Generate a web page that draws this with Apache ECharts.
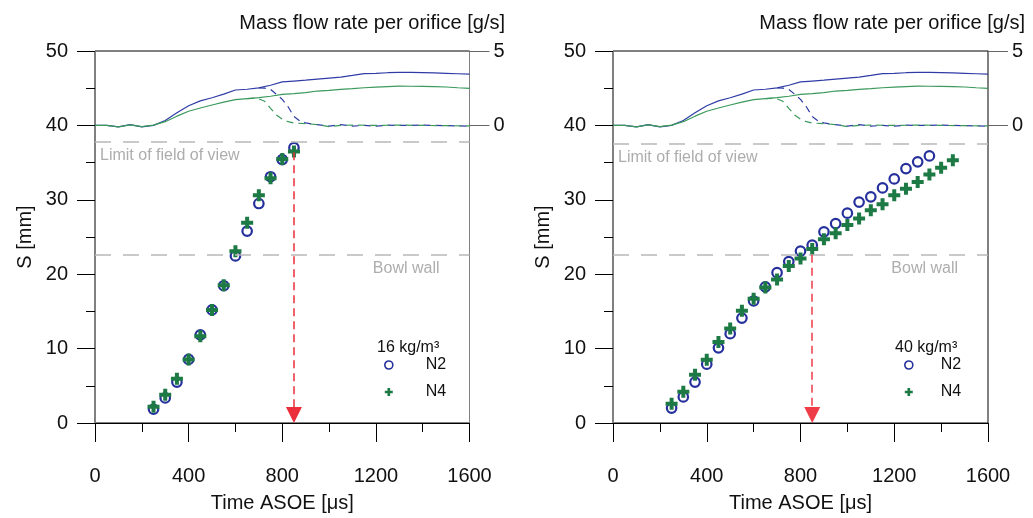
<!DOCTYPE html>
<html>
<head>
<meta charset="utf-8">
<script src="https://cdn.jsdelivr.net/npm/echarts@6/dist/echarts.min.js"></script>
<style>
  html, body { margin: 0; padding: 0; background: #fff; }
  #chart { width: 1033px; height: 518px; }
</style>
</head>
<body>
<div id="chart"></div>
<script>
// penetration S vs time, 16 kg/m3 (left panel)
var timeLeft = [250, 300, 350, 400, 450, 500, 550, 600, 650, 700, 750, 800, 850];
var n2Left = [1.85, 3.37, 5.5, 8.55, 11.85, 15.2, 18.45, 22.45, 25.8, 29.5, 33.1, 35.4, 37.0];
var n4Left = [2.2, 3.8, 5.95, 8.55, 11.65, 15.2, 18.5, 23.1, 26.9, 30.6, 32.9, 35.5, 36.5];

// penetration S vs time, 40 kg/m3 (right panel)
var timeRightN2 = [250, 300, 350, 400, 450, 500, 550, 600, 650, 700, 750, 800, 850, 900, 950, 1000, 1050, 1100, 1150, 1200, 1250, 1300, 1350];
var n2Right = [2.0, 3.5, 5.5, 7.9, 10.1, 12.0, 14.1, 16.4, 18.3, 20.2, 21.7, 23.1, 23.9, 25.7, 26.8, 28.2, 29.7, 30.4, 31.6, 32.8, 34.2, 35.1, 35.9];
var timeRightN4 = [250, 300, 350, 400, 450, 500, 550, 600, 650, 700, 750, 800, 850, 900, 950, 1000, 1050, 1100, 1150, 1200, 1250, 1300, 1350, 1400, 1450];
var n4Right = [2.6, 4.2, 6.5, 8.5, 10.9, 12.7, 15.1, 16.7, 18.2, 19.3, 21.1, 22.1, 23.4, 24.7, 25.5, 26.6, 27.5, 28.6, 29.4, 30.6, 31.5, 32.4, 33.4, 34.3, 35.3];

// mass flow rate per orifice [g/s] (right axis)
var flowTime = [0, 50, 100, 150, 200, 250, 300, 350, 400, 450, 500, 550, 600, 650, 700, 750, 800, 850, 900, 950, 1000, 1050, 1100, 1150, 1200, 1250, 1300, 1350, 1400, 1450, 1500, 1550, 1600];
var n2Flow = [0, 0, -0.1, 0.05, -0.1, 0, 0.33, 0.85, 1.32, 1.65, 1.86, 2.1, 2.38, 2.43, 2.52, 2.7, 2.92, 2.98, 3.04, 3.11, 3.18, 3.25, 3.36, 3.48, 3.5, 3.54, 3.56, 3.56, 3.55, 3.53, 3.5, 3.47, 3.44];
var n4Flow = [0, 0, -0.1, 0.03, -0.08, 0.02, 0.25, 0.62, 0.95, 1.17, 1.37, 1.56, 1.73, 1.8, 1.87, 1.96, 2.08, 2.13, 2.2, 2.31, 2.36, 2.42, 2.47, 2.53, 2.57, 2.61, 2.64, 2.63, 2.62, 2.6, 2.58, 2.53, 2.49];
// dashed (cut-off) traces
var n2CutTime = [700, 725, 750, 775, 800, 825, 850, 875, 900, 925, 950, 1000, 1050, 1100, 1150, 1200, 1250, 1300, 1350, 1400, 1450, 1500, 1550, 1600];
var n2Cut = [2.52, 2.5, 2.42, 2.1, 1.75, 1.25, 0.6, 0.3, 0.17, 0.1, 0.05, -0.05, 0.05, -0.05, 0, -0.05, 0.02, 0, 0, 0.02, 0, -0.02, -0.03, -0.05];
var n4CutTime = [650, 675, 700, 725, 750, 775, 800, 825, 850, 900, 950, 1000, 1050, 1100, 1200, 1300, 1400, 1500, 1600];
var n4Cut = [1.8, 1.82, 1.78, 1.62, 1.15, 0.7, 0.42, 0.25, 0.16, 0.12, 0.05, -0.08, 0, 0.02, 0, 0.02, 0, -0.02, -0.03];

// reference lines and arrows
var fovLine = [37.8, 37.5];
var bowlLine = [22.6, 22.6];
var arrowTime = [850, 850];
var arrowTop = [36.4, 22.6];
var arrowEnd = 1.07; // centre of the arrow head, so its tip sits on S = 0
var densityLabels = ['16 kg/m³', '40 kg/m³'];

(function() {
    var FONT = '"Liberation Sans", Arial, sans-serif';
    var BLUE = '#26309c', GREEN = '#1d7a44';
    var LINE_BLUE = '#2f3ca5', LINE_GREEN = '#3a995b';
    var PLUS = 'path://M4,0H8V4H12V8H8V12H4V8H0V4H4Z';

    function pairs(xs, ys) {
        return xs.map(function(x, i) { return [x, ys[i]]; });
    }

    var panels = [
        { grid: { left: 95, right: 563.5 }, t2: timeLeft, s2: n2Left, t4: timeLeft, s4: n4Left,
          titleRight: 528, dens: 377, legLeft: 384, legPad: 28, red: '#ea2f3a' },
        { grid: { left: 613, right: 45 }, t2: timeRightN2, s2: n2Right, t4: timeRightN4, s4: n4Right,
          titleRight: 8, dens: 895, legLeft: 904, legPad: 23, red: '#ee3d48' }
    ];

    var grids = [], xAxes = [], yAxes = [], series = [], titles = [], legends = [];

    panels.forEach(function(p, i) {
        grids.push({
            left: p.grid.left, right: p.grid.right, top: 51, bottom: 93.5,
            show: true, borderColor: '#000', borderWidth: 1, backgroundColor: 'transparent'
        });

        xAxes.push({
            type: 'value', gridIndex: i, min: 0, max: 1600, interval: 400,
            axisLine: { onZero: false, lineStyle: { color: '#000', width: 1 } },
            axisTick: { length: 19, lineStyle: { color: '#000' } },
            minorTick: { show: true, splitNumber: 2, length: 9, lineStyle: { color: '#000' } },
            splitLine: { show: false },
            axisLabel: { fontSize: 20, margin: 43, color: '#111', fontFamily: FONT,
                         formatter: function(v) { return String(v); } },
            name: 'Time ASOE [μs]', nameLocation: 'middle', nameGap: 70,
            nameTextStyle: { fontSize: 20, color: '#111', fontFamily: FONT }
        });

        yAxes.push({
            type: 'value', gridIndex: i, min: 0, max: 50, interval: 10, position: 'left',
            axisLine: { show: true, onZero: false, lineStyle: { color: '#808080' } },
            axisTick: { show: true, length: 18, lineStyle: { color: '#000' } },
            minorTick: { show: true, splitNumber: 2, length: 9, lineStyle: { color: '#000' } },
            splitLine: { show: false },
            axisLabel: { fontSize: 20, margin: 27, color: '#111', fontFamily: FONT },
            name: 'S [mm]', nameLocation: 'middle', nameRotate: 90, nameGap: 60,
            nameTextStyle: { fontSize: 20, color: '#111', fontFamily: FONT }
        });
        yAxes.push({
            type: 'value', gridIndex: i, min: -20, max: 5, interval: 5, position: 'right',
            axisLine: { show: true, onZero: false, lineStyle: { color: '#808080' } },
            axisTick: { show: true, length: 20, customValues: [0, 5], lineStyle: { color: '#666' } },
            splitLine: { show: false },
            axisLabel: { fontSize: 20, margin: 24, color: '#111', fontFamily: FONT, customValues: [0, 5] }
        });

        var yl = i * 2, yr = i * 2 + 1;
        function flow(name, xs, ys, color, dashed) {
            return {
                name: name, type: 'line', xAxisIndex: i, yAxisIndex: yr,
                data: pairs(xs, ys), showSymbol: false, symbol: 'none', silent: true, z: 1,
                lineStyle: { color: color, width: 1.2, type: dashed ? [7, 5] : 'solid' }
            };
        }
        series.push(flow('N2 flow', flowTime, n2Flow, LINE_BLUE, false));
        series.push(flow('N4 flow', flowTime, n4Flow, LINE_GREEN, false));
        series.push(flow('N2 flow cut', n2CutTime, n2Cut, LINE_BLUE, true));
        series.push(flow('N4 flow cut', n4CutTime, n4Cut, LINE_GREEN, true));

        series.push({
            name: 'N2', type: 'scatter', xAxisIndex: i, yAxisIndex: yl,
            data: pairs(p.t2, p.s2), symbol: 'circle', symbolSize: 9.5, z: 3,
            itemStyle: { color: 'rgba(255,255,255,0)', borderColor: BLUE, borderWidth: 2.2, opacity: 1 },
            markLine: {
                silent: true, symbol: ['none', 'none'], animation: false,
                lineStyle: { color: '#b8b8b8', type: [16, 12], width: 1.5 },
                label: { fontSize: 16, color: '#adadad', fontFamily: FONT },
                data: [
                    { yAxis: fovLine[i], label: { formatter: 'Limit of field of view', position: 'insideStartBottom', distance: [5, 6] } },
                    { yAxis: bowlLine[i], label: { formatter: 'Bowl wall', position: 'insideEndBottom', distance: [30, 6] } }
                ]
            }
        });
        series.push({
            name: 'N4', type: 'scatter', xAxisIndex: i, yAxisIndex: yl,
            data: pairs(p.t4, p.s4), symbol: PLUS, symbolSize: 12, z: 4,
            itemStyle: { color: GREEN, opacity: 1 },
            markLine: {
                silent: true, symbol: ['none', 'triangle'], symbolSize: 16, animation: false,
                lineStyle: { color: p.red, type: [8, 5], width: 1.5 },
                label: { show: false },
                data: [[{ coord: [arrowTime[i], arrowTop[i]] }, { coord: [arrowTime[i], arrowEnd] }]]
            }
        });

        titles.push({
            text: 'Mass flow rate per orifice [g/s]', right: p.titleRight, top: 13, padding: 0,
            textStyle: { fontSize: 20, fontWeight: 'normal', color: '#111', fontFamily: FONT }
        });
        titles.push({
            text: densityLabels[i], left: p.dens, top: 340, padding: 0,
            textStyle: { fontSize: 16, fontWeight: 'normal', color: '#111', fontFamily: FONT }
        });

        legends.push({
            left: p.legLeft, top: 357, orient: 'vertical', padding: 0,
            itemWidth: 8, itemHeight: 8, itemGap: 11, selectedMode: false,
            textStyle: { fontSize: 16, color: '#111', fontFamily: FONT, padding: [0, 0, 0, p.legPad] },
            data: [
                { name: 'N2', icon: 'circle', itemStyle: { color: 'rgba(255,255,255,0)', borderColor: BLUE, borderWidth: 1.6 } },
                { name: 'N4', icon: PLUS, itemStyle: { color: GREEN, borderWidth: 0 } }
            ]
        });
    });

    var option = {
        animation: false,
        backgroundColor: '#fff',
        textStyle: { fontFamily: FONT },
        title: titles,
        legend: legends,
        grid: grids,
        xAxis: xAxes,
        yAxis: yAxes,
        series: series
    };

    var chart = echarts.init(document.getElementById('chart'));
    chart.setOption(option);
})();
</script>
</body>
</html>
